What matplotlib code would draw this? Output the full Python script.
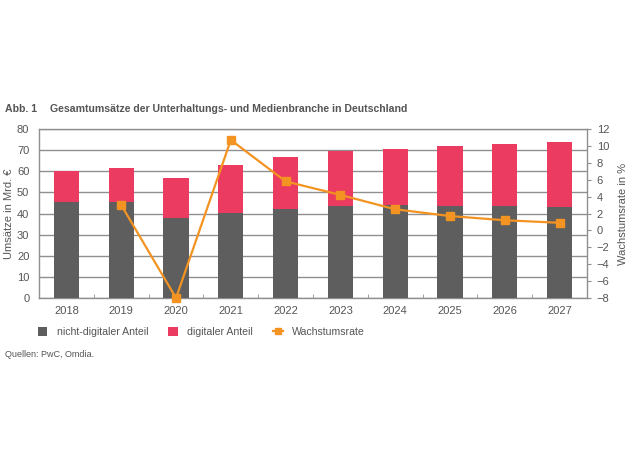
import matplotlib.pyplot as plt
import numpy as np
from matplotlib.lines import Line2D
from matplotlib.patches import Patch

years = ['2018', '2019', '2020', '2021', '2022', '2023', '2024', '2025', '2026', '2027']
nicht_digital = [45.3, 45.4, 38.0, 40.3, 42.3, 43.6, 43.8, 43.6, 43.6, 43.3]
gesamt = [60.1, 61.7, 57.0, 62.8, 66.6, 69.4, 70.6, 72.1, 73.1, 73.8]
digital = [g - n for g, n in zip(gesamt, nicht_digital)]
wachstum_jahre = years[1:]
wachstum = [3.0, -8.0, 10.7, 5.8, 4.2, 2.5, 1.7, 1.2, 0.9]

c_grey = '#5e5e5f'
c_pink = '#ec3b60'
c_orange = '#f39322'
c_text = '#555555'
c_grid = '#8f8f8f'

plt.rcParams['font.family'] = ['Liberation Sans', 'DejaVu Sans']

fig = plt.figure(figsize=(6.3, 4.68), dpi=100)
ax = fig.add_axes([0.062, 0.3632, 0.8697, 0.3612])

x = np.arange(len(years))
bw = 0.46
ax.bar(x, nicht_digital, width=bw, color=c_grey, zorder=3)
ax.bar(x, digital, width=bw, bottom=nicht_digital, color=c_pink, zorder=3)

ax.set_xlim(-0.5, len(years) - 0.5)
ax.set_ylim(0, 80)
ax.set_yticks(np.arange(0, 81, 10))
ax.set_xticks(x)
ax.set_xticklabels(years)
ax.set_xticks(np.arange(0.5, len(years) - 1, 1), minor=True)
ax.yaxis.grid(True, color=c_grid, linewidth=1.0, zorder=0)
ax.set_axisbelow(True)
ax.tick_params(axis='y', length=0, labelsize=8, colors=c_text, pad=7)
ax.tick_params(axis='x', which='major', length=0, labelsize=8, colors=c_text, pad=6)
ax.tick_params(axis='x', which='minor', length=3, direction='in', color=c_grid)
ax.set_ylabel('Umsätze in Mrd. €', fontsize=8, color=c_text, labelpad=2)
for s in ax.spines.values():
    s.set_color(c_grid)
    s.set_linewidth(1.0)

ax2 = ax.twinx()
ax2.plot([years.index(y) for y in wachstum_jahre], wachstum, color=c_orange, linewidth=1.6,
         marker='s', markersize=5.5, zorder=5, clip_on=False)
ax2.set_ylim(-8, 12)
ax2.set_yticks(np.arange(-8, 13, 2))
ax2.set_yticklabels([str(v).replace('-', '\u2212') for v in range(-8, 13, 2)])
ax2.tick_params(axis='y', length=3, direction='out', color=c_grid, labelsize=8, colors=c_text, pad=4)
ax2.set_ylabel('Wachstumsrate in %', fontsize=8, color=c_text, labelpad=6)
for s in ax2.spines.values():
    s.set_visible(False)

fig.text(0.008, 0.768, 'Abb. 1', fontsize=7.6, fontweight='bold', color=c_text, va='center')
fig.text(0.079, 0.768, 'Gesamtumsätze der Unterhaltungs- und Medienbranche in Deutschland',
         fontsize=7.6, fontweight='bold', color=c_text, va='center')

handles = [Patch(facecolor=c_grey, edgecolor='none'),
           Patch(facecolor=c_pink, edgecolor='none'),
           Line2D([0], [0], color=c_orange, linewidth=1.6, marker='s', markersize=5)]
labels = ['nicht-digitaler Anteil', 'digitaler Anteil', 'Wachstumsrate']
leg = fig.legend(handles, labels, loc='center left', bbox_to_anchor=(0.06, 0.291), ncol=3,
                 frameon=False, fontsize=7.6, handlelength=0.9, handleheight=0.9,
                 columnspacing=1.9, handletextpad=0.9, borderpad=0, borderaxespad=0)
for t in leg.get_texts():
    t.set_color(c_text)

fig.text(0.008, 0.243, 'Quellen: PwC, Omdia.', fontsize=6.5, color=c_text, va='center')

plt.savefig('out.png', dpi=100)
